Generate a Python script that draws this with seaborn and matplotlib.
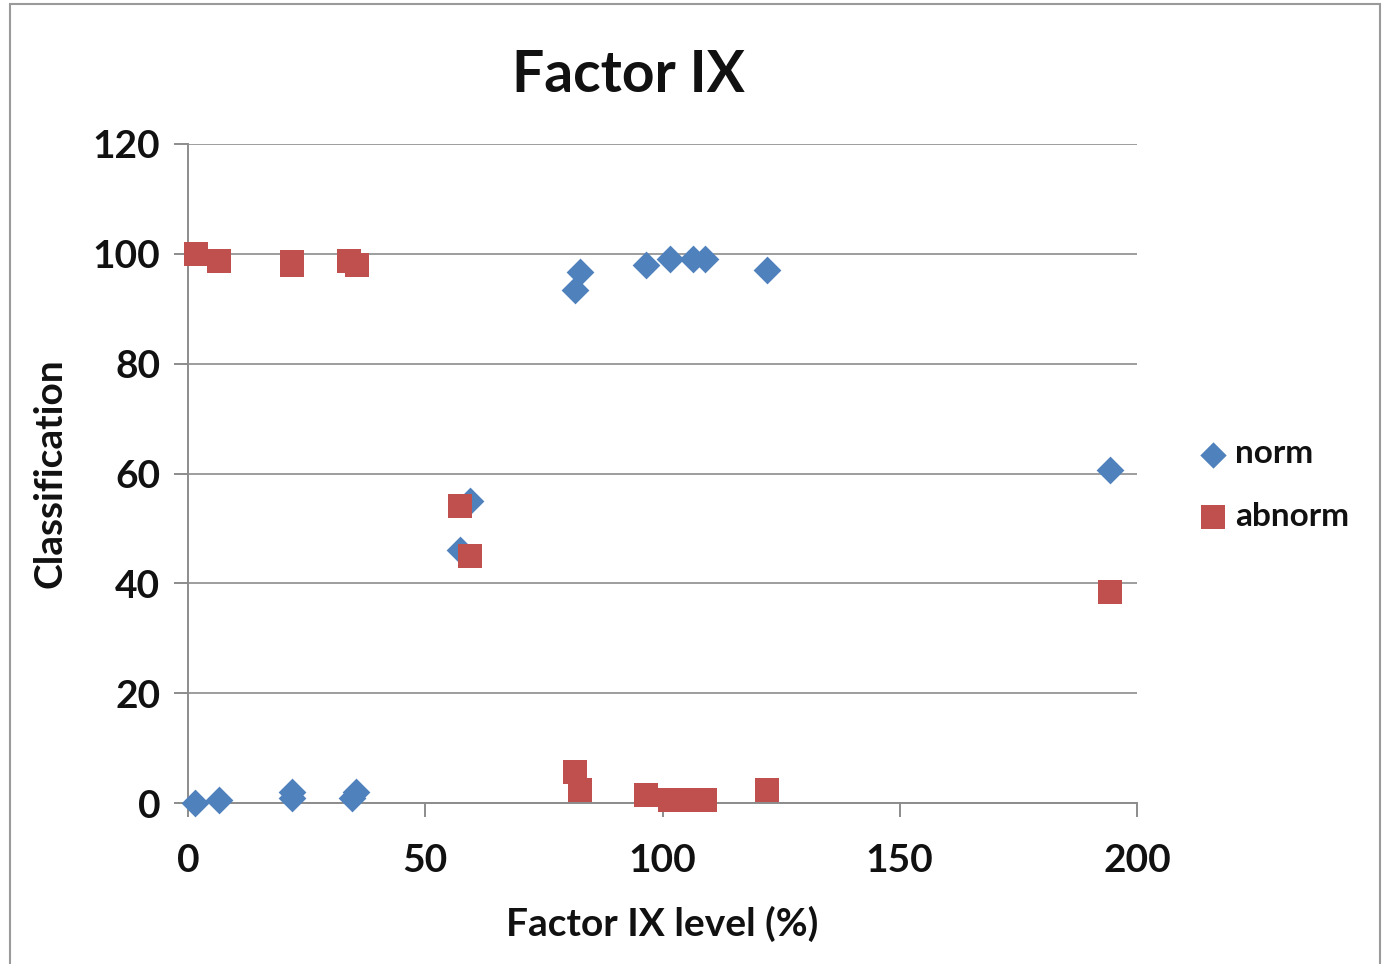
import matplotlib
matplotlib.use("Agg")
import matplotlib.pyplot as plt
import seaborn as sns
import pandas as pd
from matplotlib.patches import Rectangle

# Data
norm_x = [1.5, 6.5, 22, 22, 34.5, 35.5, 57.3, 59.4, 81.5, 82.6, 96.5, 101.6, 106.4, 109, 122, 194.3]
norm_y = [0, 0.5, 1, 2, 1, 2, 46, 55, 93.5, 96.7, 98, 99, 99, 99, 97, 60.7]
abn_x = [1.7, 6.5, 22, 22, 34, 35.6, 57.3, 59.4, 81.5, 82.6, 96.5, 101.6, 106.4, 109, 122, 194.3]
abn_y = [100, 98.7, 98.5, 98, 98.7, 98, 54, 45, 5.6, 2.4, 1.5, 0.5, 0.5, 0.5, 2.4, 38.4]
series_names = ["norm", "abnorm"]
x_ticks = [0, 50, 100, 150, 200]
y_ticks = [0, 20, 40, 60, 80, 100, 120]

df = pd.DataFrame({
    "x": norm_x + abn_x,
    "y": norm_y + abn_y,
    "series": [series_names[0]] * len(norm_x) + [series_names[1]] * len(abn_x),
})

sns.set_theme(style="white")
plt.rcParams["font.family"] = ["Lato", "DejaVu Sans"]

fig = plt.figure(figsize=(13.82, 9.64), dpi=100)
ax = fig.add_axes([188 / 1382, 1 - 803 / 964, (1137 - 188) / 1382, (803 - 144) / 964])

colors = {"norm": "#4F81BD", "abnorm": "#C0504D"}

sns.scatterplot(data=df[df.series == "norm"], x="x", y="y", color=colors["norm"],
                marker="D", s=200, linewidth=0, ax=ax, label="norm", zorder=3)
sns.scatterplot(data=df[df.series == "abnorm"], x="x", y="y", color=colors["abnorm"],
                marker="s", s=310, linewidth=0, ax=ax, label="abnorm", zorder=3)

ax.set_xlim(0, 200)
ax.set_ylim(0, 120)
ax.set_xticks(x_ticks)
ax.set_yticks(y_ticks)
ax.yaxis.grid(True, color="#8c8c8c", linewidth=1.2)
ax.xaxis.grid(False)
ax.set_axisbelow(True)
for s in ["top", "right"]:
    ax.spines[s].set_visible(False)
for s in ["left", "bottom"]:
    ax.spines[s].set_color("#8c8c8c")
    ax.spines[s].set_linewidth(1.4)
ax.tick_params(axis="both", direction="out", length=10, width=1.4, color="#8c8c8c",
               labelsize=28, labelcolor="#111111")
ax.tick_params(axis="x", bottom=True, pad=19)
ax.tick_params(axis="y", left=True, pad=10)
for lbl in ax.get_xticklabels() + ax.get_yticklabels():
    lbl.set_fontweight("bold")
for c in ax.collections:
    c.set_clip_on(False)

ax.set_xlabel("Factor IX level (%)", fontsize=28, fontweight="bold", labelpad=20,
              color="#111111")
ax.set_ylabel("Classification", fontsize=28, fontweight="bold", labelpad=18,
              color="#111111")
fig.text(628 / 1382, 1 - 75 / 964, "Factor IX", fontsize=41, fontweight="bold",
         ha="center", va="center", color="#111111")

leg = ax.legend(loc="center left", bbox_to_anchor=(1183 / 1382, 1 - 485 / 964),
                bbox_transform=fig.transFigure, frameon=False, fontsize=24,
                handlelength=1.0, handletextpad=0.15, labelspacing=1.0,
                borderpad=0.4, borderaxespad=0.0, markerscale=0.95)
for t in leg.get_texts():
    t.set_fontweight("bold")
    t.set_color("#111111")

fig.add_artist(Rectangle((10 / 1382, -0.01), 1 - 12 / 1382, 1 - 4 / 964 + 0.01,
                         transform=fig.transFigure, fill=False, edgecolor="#9a9a9a",
                         linewidth=1.5))

fig.savefig("out.png", dpi=100)
